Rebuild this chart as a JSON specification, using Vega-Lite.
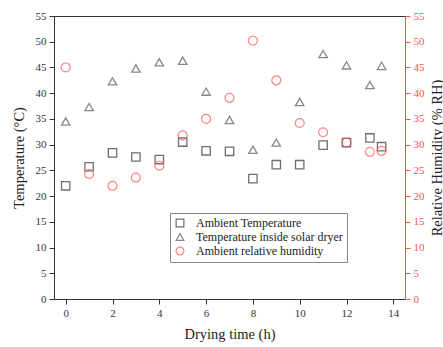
{
  "$schema": "https://vega.github.io/schema/vega-lite/v6.json",
  "width": 351,
  "height": 283,
  "autosize": {"type": "none"},
  "padding": {"left": 54, "top": 16, "right": 38, "bottom": 48},
  "background": "white",
  "config": {
    "view": {"stroke": "#333333", "strokeWidth": 1},
    "font": "Liberation Serif",
    "axis": {"grid": false, "labelFont": "Liberation Serif", "titleFont": "Liberation Serif", "labelFontSize": 11, "titleFontSize": 14.5, "titleFontWeight": "normal", "tickSize": 5, "labelPadding": 3}
  },
  "data": {
    "values": [
      {"time": 0, "series": "Ambient Temperature", "value": 22.0},
      {"time": 1, "series": "Ambient Temperature", "value": 25.7},
      {"time": 2, "series": "Ambient Temperature", "value": 28.4},
      {"time": 3, "series": "Ambient Temperature", "value": 27.6},
      {"time": 4, "series": "Ambient Temperature", "value": 27.1},
      {"time": 5, "series": "Ambient Temperature", "value": 30.5},
      {"time": 6, "series": "Ambient Temperature", "value": 28.8},
      {"time": 7, "series": "Ambient Temperature", "value": 28.7},
      {"time": 8, "series": "Ambient Temperature", "value": 23.4},
      {"time": 9, "series": "Ambient Temperature", "value": 26.1},
      {"time": 10, "series": "Ambient Temperature", "value": 26.1},
      {"time": 11, "series": "Ambient Temperature", "value": 29.9},
      {"time": 12, "series": "Ambient Temperature", "value": 30.4},
      {"time": 13, "series": "Ambient Temperature", "value": 31.3},
      {"time": 13.5, "series": "Ambient Temperature", "value": 29.6},
      {"time": 0, "series": "Temperature inside solar dryer", "value": 34.5},
      {"time": 1, "series": "Temperature inside solar dryer", "value": 37.3},
      {"time": 2, "series": "Temperature inside solar dryer", "value": 42.3},
      {"time": 3, "series": "Temperature inside solar dryer", "value": 44.8},
      {"time": 4, "series": "Temperature inside solar dryer", "value": 46.0},
      {"time": 5, "series": "Temperature inside solar dryer", "value": 46.3},
      {"time": 6, "series": "Temperature inside solar dryer", "value": 40.3},
      {"time": 7, "series": "Temperature inside solar dryer", "value": 34.8},
      {"time": 8, "series": "Temperature inside solar dryer", "value": 29.0},
      {"time": 9, "series": "Temperature inside solar dryer", "value": 30.4},
      {"time": 10, "series": "Temperature inside solar dryer", "value": 38.3},
      {"time": 11, "series": "Temperature inside solar dryer", "value": 47.6},
      {"time": 12, "series": "Temperature inside solar dryer", "value": 45.4},
      {"time": 13, "series": "Temperature inside solar dryer", "value": 41.6},
      {"time": 13.5, "series": "Temperature inside solar dryer", "value": 45.3},
      {"time": 0, "series": "Ambient relative humidity", "value": 45.0},
      {"time": 1, "series": "Ambient relative humidity", "value": 24.3},
      {"time": 2, "series": "Ambient relative humidity", "value": 22.0},
      {"time": 3, "series": "Ambient relative humidity", "value": 23.6},
      {"time": 4, "series": "Ambient relative humidity", "value": 25.9},
      {"time": 5, "series": "Ambient relative humidity", "value": 31.8},
      {"time": 6, "series": "Ambient relative humidity", "value": 35.0},
      {"time": 7, "series": "Ambient relative humidity", "value": 39.1},
      {"time": 8, "series": "Ambient relative humidity", "value": 50.2},
      {"time": 9, "series": "Ambient relative humidity", "value": 42.5},
      {"time": 10, "series": "Ambient relative humidity", "value": 34.2},
      {"time": 11, "series": "Ambient relative humidity", "value": 32.4},
      {"time": 12, "series": "Ambient relative humidity", "value": 30.4},
      {"time": 13, "series": "Ambient relative humidity", "value": 28.6},
      {"time": 13.5, "series": "Ambient relative humidity", "value": 28.8}
    ]
  },
  "encoding": {
    "x": {
      "field": "time", "type": "quantitative",
      "scale": {"domain": [-0.5, 14.5], "nice": false, "zero": false},
      "axis": {"values": [0, 2, 4, 6, 8, 10, 12, 14], "title": "Drying time (h)", "domainColor": "#333333", "tickColor": "#333333", "labelColor": "#333333", "titleColor": "#222222", "titlePadding": 9}
    },
    "color": {
      "field": "series", "type": "nominal",
      "scale": {"domain": ["Ambient Temperature", "Temperature inside solar dryer", "Ambient relative humidity"], "range": ["#333333", "#555555", "#ff5050"]},
      "legend": {
        "title": null, "orient": "none", "legendX": 116, "legendY": 197,
        "strokeColor": "#888888", "fillColor": "white", "padding": 4,
        "labelFont": "Liberation Serif", "labelFontSize": 12, "labelColor": "#222222",
        "symbolSize": 60, "symbolStrokeWidth": 1.2, "rowPadding": 1, "labelOffset": 10
      }
    },
    "shape": {
      "field": "series", "type": "nominal",
      "scale": {"domain": ["Ambient Temperature", "Temperature inside solar dryer", "Ambient relative humidity"], "range": ["square", "triangle-up", "circle"]},
      "legend": {
        "title": null, "orient": "none", "legendX": 116, "legendY": 197,
        "strokeColor": "#888888", "fillColor": "white", "padding": 4,
        "labelFont": "Liberation Serif", "labelFontSize": 12, "labelColor": "#222222",
        "symbolSize": 60, "symbolStrokeWidth": 1.2, "rowPadding": 1, "labelOffset": 10
      }
    }
  },
  "layer": [
    {
      "transform": [{"filter": "datum.series != 'Ambient relative humidity'"}],
      "mark": {"type": "point", "filled": false, "size": 70, "strokeWidth": 1.3},
      "encoding": {
        "y": {
          "field": "value", "type": "quantitative",
          "scale": {"domain": [0, 55], "nice": false},
          "axis": {"orient": "left", "values": [0, 5, 10, 15, 20, 25, 30, 35, 40, 45, 50, 55], "title": "Temperature (°C)", "domainColor": "#333333", "tickColor": "#333333", "labelColor": "#333333", "titleColor": "#222222", "titlePadding": 9}
        }
      }
    },
    {
      "transform": [{"filter": "datum.series == 'Ambient relative humidity'"}],
      "mark": {"type": "point", "filled": false, "size": 80, "strokeWidth": 1.2},
      "encoding": {
        "y": {
          "field": "value", "type": "quantitative",
          "scale": {"domain": [0, 55], "nice": false},
          "axis": {"orient": "right", "values": [0, 5, 10, 15, 20, 25, 30, 35, 40, 45, 50, 55], "title": "Relative Humidity (% RH)", "titleAngle": 270, "titleBaseline": "bottom", "domainColor": "#ff5050", "tickColor": "#ff5050", "labelColor": "#ff5050", "titleColor": "#222222", "titlePadding": 20}
        }
      }
    }
  ],
  "resolve": {"scale": {"y": "independent"}}
}
